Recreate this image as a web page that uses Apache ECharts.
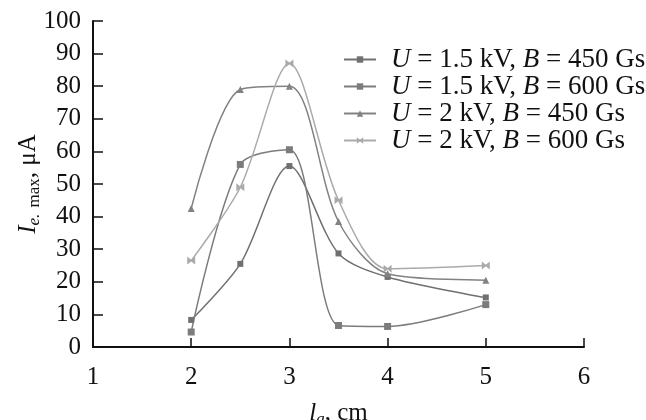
<!DOCTYPE html>
<html>
<head>
<meta charset="utf-8">
<script src="https://cdn.jsdelivr.net/npm/echarts@6/dist/echarts.min.js"></script>
<style>
  html, body { margin: 0; padding: 0; background: #fff; }
  #chart { width: 646px; height: 420px; }
</style>
</head>
<body>
<div id="chart"></div>
<script>
// anode length l_a (cm) and peak electron current (uA)
const la = [2, 2.5, 3, 3.5, 4, 5];
const u15b450 = [8.3, 25.5, 55.5, 28.7, 21.5, 15.2];
const u15b600 = [4.6, 56, 60.5, 6.6, 6.3, 13];
const u2b450 = [42.5, 79, 80, 38.5, 22.5, 20.5];
const u2b600 = [26.5, 49, 87, 45, 24, 25];

const seriesNames = ['U15B450', 'U15B600', 'U2B450', 'U2B600'];
const legendText = {
    U15B450: '{i|U} = 1.5 kV, {i|B} = 450 Gs',
    U15B600: '{i|U} = 1.5 kV, {i|B} = 600 Gs',
    U2B450: '{i|U} = 2 kV, {i|B} = 450 Gs',
    U2B600: '{i|U} = 2 kV, {i|B} = 600 Gs'
};

const FONT = '"Liberation Serif", "DejaVu Serif", serif';
const chart = echarts.init(document.getElementById('chart'));

const pairs = (ys) => la.map((x, i) => [x, ys[i]]);

const mk = (name, ys, symbol, color, size) => ({
    name: name,
    type: 'line',
    data: pairs(ys),
    smooth: 0.3,
    symbol: symbol,
    symbolSize: size,
    lineStyle: { color: color, width: 1.5 },
    itemStyle: { color: color },
    emphasis: { disabled: true }
});

const bowtie = 'path://M0,0L5,4L10,0L10,10L5,6L0,10Z';

chart.setOption({
    animation: false,
    backgroundColor: '#fff',
    grid: { left: 93, right: 62, top: 21, bottom: 73, outerBoundsMode: 'none' },
    legend: {
        orient: 'vertical',
        left: 338,
        top: 41,
        itemWidth: 32,
        itemHeight: 8,
        itemGap: 0,
        data: seriesNames,
        formatter: (n) => legendText[n],
        textStyle: {
            fontFamily: FONT, fontSize: 27, lineHeight: 27, color: '#111',
            padding: [0, 0, 0, 10],
            rich: { i: { fontFamily: FONT, fontSize: 27, lineHeight: 27, fontStyle: 'italic', color: '#111' } }
        }
    },
    xAxis: {
        type: 'value', min: 1, max: 6, interval: 1,
        name: '{i|l}{sub|a}, cm',
        nameLocation: 'middle',
        nameGap: 52,
        nameMoveOverlap: false,
        nameTextStyle: {
            fontFamily: FONT, fontSize: 25, color: '#111',
            rich: {
                i: { fontFamily: FONT, fontSize: 25, fontStyle: 'italic', color: '#111' },
                sub: { fontFamily: FONT, fontSize: 17, fontStyle: 'italic', color: '#111', padding: [12, 0, 0, 0] }
            }
        },
        axisLine: { lineStyle: { color: '#111', width: 2 } },
        axisTick: { inside: true, length: 9, lineStyle: { color: '#111', width: 1.5 } },
        axisLabel: { fontFamily: FONT, fontSize: 25, color: '#111', margin: 18 },
        splitLine: { show: false }
    },
    yAxis: {
        type: 'value', min: 0, max: 100, interval: 10,
        name: '{i|I}{sub|e.} {sub2|max}, μA',
        nameLocation: 'middle',
        nameRotate: 90,
        nameGap: 50,
        nameMoveOverlap: false,
        nameTextStyle: {
            fontFamily: FONT, fontSize: 25, color: '#111',
            rich: {
                i: { fontFamily: FONT, fontSize: 25, fontStyle: 'italic', color: '#111' },
                sub: { fontFamily: FONT, fontSize: 17, fontStyle: 'italic', color: '#111', padding: [12, 0, 0, 0] },
                sub2: { fontFamily: FONT, fontSize: 17, color: '#111', padding: [12, 0, 0, 0] }
            }
        },
        axisLine: { show: true, lineStyle: { color: '#111', width: 2 } },
        axisTick: { show: true, inside: true, length: 10, lineStyle: { color: '#111', width: 1.5 } },
        axisLabel: { fontFamily: FONT, fontSize: 25, color: '#111', margin: 12 },
        splitLine: { show: false }
    },
    series: [
        mk('U15B450', u15b450, 'rect', '#707070', 6),
        mk('U15B600', u15b600, 'rect', '#7c7c7c', 7),
        mk('U2B450', u2b450, 'triangle', '#828282', 7),
        mk('U2B600', u2b600, bowtie, '#aaaaaa', 8)
    ]
});
</script>
</body>
</html>
